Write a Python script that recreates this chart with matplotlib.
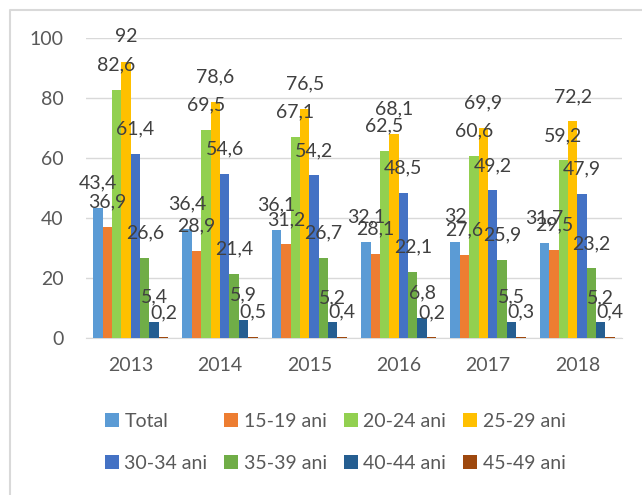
import matplotlib.pyplot as plt
import numpy as np
from matplotlib.lines import Line2D

years = ["2013", "2014", "2015", "2016", "2017", "2018"]
series = ["Total", "15-19 ani", "20-24 ani", "25-29 ani",
          "30-34 ani", "35-39 ani", "40-44 ani", "45-49 ani"]
total = [43.4, 36.4, 36.1, 32.1, 32, 31.7]
a15_19 = [36.9, 28.9, 31.2, 28.1, 27.6, 29.5]
a20_24 = [82.6, 69.5, 67.1, 62.5, 60.6, 59.2]
a25_29 = [92, 78.6, 76.5, 68.1, 69.9, 72.2]
a30_34 = [61.4, 54.6, 54.2, 48.5, 49.2, 47.9]
a35_39 = [26.6, 21.4, 26.7, 22.1, 25.9, 23.2]
a40_44 = [5.4, 5.9, 5.2, 6.8, 5.5, 5.2]
a45_49 = [0.2, 0.5, 0.4, 0.2, 0.3, 0.4]
values = [total, a15_19, a20_24, a25_29, a30_34, a35_39, a40_44, a45_49]
colors = ["#5B9BD5", "#ED7D31", "#92D050", "#FFC000",
          "#4472C4", "#70AD47", "#255E91", "#9E480E"]

plt.rcParams['font.family'] = ['Lato', 'DejaVu Sans']

fig = plt.figure(figsize=(6.42, 4.95), dpi=100)
# chart frame: only the top and left edges are visible in the crop
fig.lines.append(Line2D([10 / 642, 10 / 642, 1], [0, 1 - 10 / 495, 1 - 10 / 495],
                        transform=fig.transFigure, color="#d9d9d9", linewidth=1.5))
ax = fig.add_axes([86 / 642, 1 - 338 / 495, 536 / 642, 300 / 495])

x = np.arange(len(years))
w = 0.105
handles = []
for i, (name, vals, c) in enumerate(zip(series, values, colors)):
    pos = x + (i - 3.5) * w
    h = ax.bar(pos, vals, w, color=c, label=name, zorder=3)
    handles.append(h)
    for px, v in zip(pos, vals):
        txt = f"{v:g}".replace(".", ",")
        ax.annotate(txt, (px, v), xytext=(0, 18), textcoords="offset points",
                    ha="center", va="center", fontsize=14, color="#404040",
                    annotation_clip=False, zorder=5)

ax.set_xlim(-0.5, 5.5)
ax.set_ylim(0, 100)
ax.set_yticks([0, 20, 40, 60, 80, 100])
ax.set_xticks(x)
ax.set_xticklabels(years)
ax.tick_params(axis="both", length=0, labelsize=14, labelcolor="#595959")
ax.tick_params(axis="x", pad=14)
ax.tick_params(axis="y", pad=16)
ax.grid(axis="y", color="#d9d9d9", linewidth=1, zorder=0)
for s in ["top", "right", "left"]:
    ax.spines[s].set_visible(False)
ax.spines["bottom"].set_color("#d9d9d9")

# legend fills column-wise, so reorder to get row-wise like Excel
order = [0, 4, 1, 5, 2, 6, 3, 7]
fig.legend([handles[k] for k in order], [series[k] for k in order],
           loc="center", bbox_to_anchor=(335 / 642, 1 - 442.5 / 495), ncol=4,
           frameon=False, fontsize=14, labelcolor="#595959",
           handlelength=0.72, handleheight=0.72, handletextpad=0.3,
           columnspacing=0.85, labelspacing=1.3, borderpad=0)

fig.savefig("out.png", dpi=100)
